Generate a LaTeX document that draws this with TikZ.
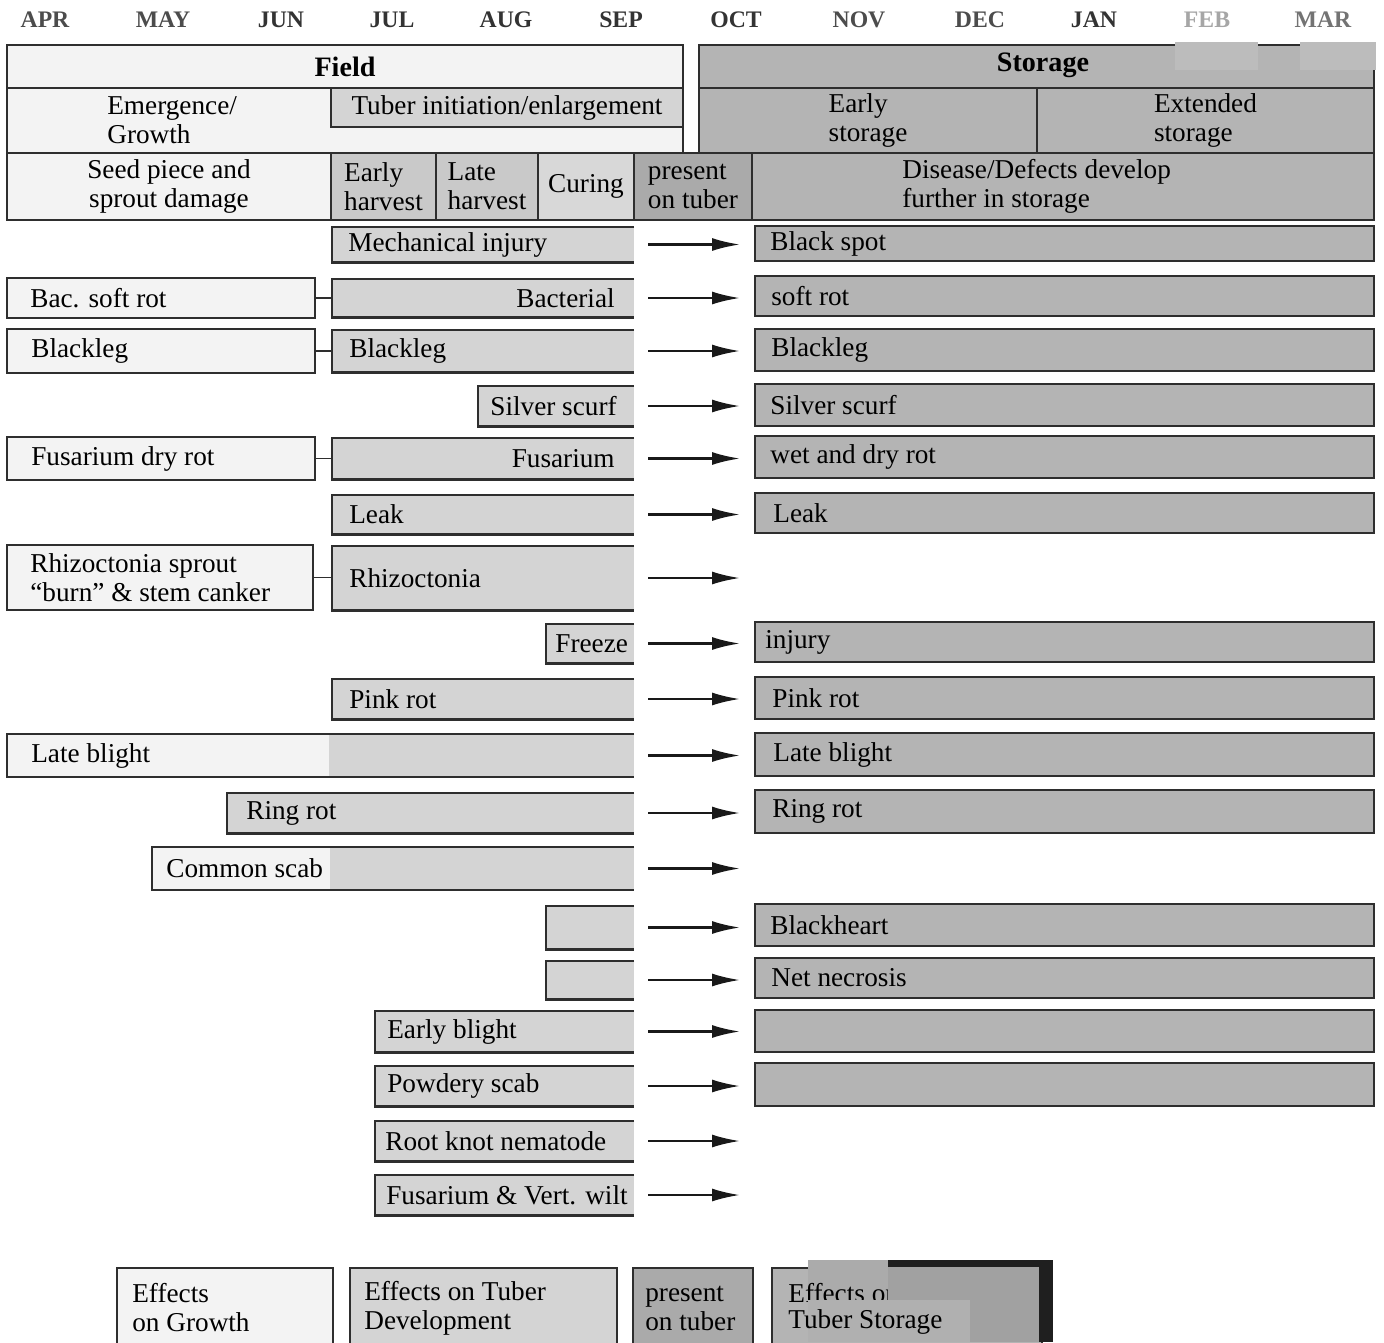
\documentclass[tikz,border=0pt]{standalone}
\usepackage{fontspec}
\setmainfont{Liberation Serif}
\usetikzlibrary{positioning,arrows.meta}
\definecolor{edge}{HTML}{2E2E2E}
\definecolor{fieldwhite}{HTML}{F3F3F3}
\definecolor{devgray}{HTML}{D4D4D4}
\definecolor{harvgray}{HTML}{C9C9C9}
\definecolor{curegray}{HTML}{D8D8D8}
\definecolor{tubergray}{HTML}{AAAAAA}
\definecolor{stogray}{HTML}{B4B4B4}
\definecolor{patchgray}{HTML}{BCBCBC}
\newcommand{\boxfont}{\fontsize{15.5}{16.5}\selectfont}

\begin{document}
\begin{tikzpicture}[x=0.2mm,y=-0.2mm,
    wh/.style 2 args={minimum width=#1*0.2mm,minimum height=#2*0.2mm},
    cell/.style={inner sep=0,outer sep=0,anchor=north west,line width=0.9pt,font=\boxfont,align=center},
    fieldbox/.style={cell,fill=fieldwhite,draw=edge},
    whitepart/.style={cell,fill=fieldwhite},
    graypart/.style={cell,fill=devgray},
    devbox/.style={cell,fill=devgray,path picture={\draw[edge,line width=1.8pt] (path picture bounding box.north east) -- (path picture bounding box.north west) -- (path picture bounding box.south west) -- (path picture bounding box.south east);}},
    stobox/.style={cell,fill=stogray,draw=edge},
    lbl/.style={inner sep=0,font=\boxfont,align=left},
    month/.style={inner sep=0,font=\fontsize{13.5}{15}\selectfont\bfseries,text=#1},
    month/.default={black!80},
    arr/.style={-{Latex[length=5.6mm,width=2.6mm]},line width=1.3pt,black!90},
    tie/.style={edge,line width=0.9pt}]
    \useasboundingbox (0,0) rectangle (1384,1342);
    \clip (0,0) rectangle (1384,1342);

    % months
    \node[month=black!70] (apr) at (45,20) {APR};
    \node[month=black!70] (may) at (163,20) {MAY};
    \node[month] (jun) at (281,20) {JUN};
    \node[month] (jul) at (392,20) {JUL};
    \node[month] (aug) at (506,20) {AUG};
    \node[month] (sep) at (621,20) {SEP};
    \node[month] (oct) at (736,20) {OCT};
    \node[month=black!70] (nov) at (859,20) {NOV};
    \node[month=black!70] (dec) at (980,20) {DEC};
    \node[month] (jan) at (1094,20) {JAN};
    \node[month=black!35] (feb) at (1207,20) {FEB};
    \node[month=black!55] (mar) at (1323,20) {MAR};

    % header
    \node[fieldbox,wh={676}{43},font=\fontsize{16}{18}\selectfont\bfseries] (field) at (7,45) {Field};
    \node[fieldbox,wh={676}{65}] (grow) at (7,88) {};
    \node[lbl,right=20mm of grow.west] (grow-t) {Emergence/\\Growth};
    \node[cell,fill=devgray,draw=edge,wh={352}{39}] (tinit) at (331,88) {Tuber initiation/enlargement};
    \node[fieldbox,wh={324}{67}] (seed) at (7,153) {Seed piece and\\sprout damage};
    \node[cell,fill=harvgray,draw=edge,wh={105}{67},align=left] (earlyh) at (331,153) {Early\\harvest};
    \node[cell,fill=harvgray,draw=edge,wh={102}{67},align=left] (lateh) at (436,153) {Late\\harvest};
    \node[cell,fill=curegray,draw=edge,wh={96}{67}] (curing) at (538,153) {Curing};
    \node[cell,fill=tubergray,draw=edge,wh={118}{67},align=left] (present) at (634,153) {present\\on tuber};
    \node[stobox,wh={622}{67}] (disease) at (752,153) {};
    \node[lbl,right=30mm of disease.west] (disease-t) {Disease/Defects develop\\further in storage};
    \node[stobox,wh={675}{43}] (storage) at (699,45) {};
    \node[lbl,font=\fontsize{16}{18}\selectfont\bfseries] (storage-t) at (1043,65) {Storage};
    \node[stobox,wh={338}{65},align=left] (earlys) at (699,88) {Early\\storage};
    \node[stobox,wh={337}{65},align=left] (exts) at (1037,88) {Extended\\storage};
    \fill[patchgray] (1175,42) rectangle (1258,70);
    \fill[patchgray] (1300,42) rectangle (1376,70);

    % effects on growth
    \node[fieldbox,wh={308}{40}] (bsr) at (7,278) {};
    \node[lbl,right=4.6mm of bsr.west] (bsr-t) {Bac. soft rot};
    \node[fieldbox,wh={308}{44}] (blkf) at (7,329) {};
    \node[lbl,right=4.8mm of blkf.west] (blkf-t) {Blackleg};
    \node[fieldbox,wh={308}{43}] (fdr) at (7,437) {};
    \node[lbl,right=4.8mm of fdr.west] (fdr-t) {Fusarium dry rot};
    \node[fieldbox,wh={306}{65}] (rhzf) at (7,545) {};
    \node[lbl,right=4.6mm of rhzf.west] (rhzf-t) {Rhizoctonia sprout\\``burn'' \& stem canker};

    % effects on tuber development
    \node[devbox,wh={303}{37}] (mech) at (331,226) {};
    \node[lbl,right=3.4mm of mech.west] (mech-t) {Mechanical injury};
    \node[devbox,wh={303}{40}] (bac) at (331,278) {};
    \node[lbl,left=3.8mm of bac.east] (bac-t) {Bacterial};
    \node[devbox,wh={303}{44}] (blk) at (331,329) {};
    \node[lbl,right=3.6mm of blk.west] (blk-t) {Blackleg};
    \node[devbox,wh={157}{42}] (silv) at (477,385) {};
    \node[lbl,right=2.6mm of silv.west] (silv-t) {Silver scurf};
    \node[devbox,wh={303}{43}] (fus) at (331,437) {};
    \node[lbl,left=3.8mm of fus.east] (fus-t) {Fusarium};
    \node[devbox,wh={303}{41}] (leak) at (331,494) {};
    \node[lbl,right=3.6mm of leak.west] (leak-t) {Leak};
    \node[devbox,wh={303}{66}] (rhz) at (331,545) {};
    \node[lbl,right=3.6mm of rhz.west] (rhz-t) {Rhizoctonia};
    \node[devbox,wh={89}{41}] (frz) at (545,623) {};
    \node[lbl,right=2mm of frz.west] (frz-t) {Freeze};
    \node[devbox,wh={303}{42}] (pink) at (331,678) {};
    \node[lbl,right=3.6mm of pink.west] (pink-t) {Pink rot};
    \node[whitepart,wh={322}{43}] (lbw) at (7,734) {};
    \node[graypart,wh={305}{43}] (lbg) at (329,734) {};
    \draw[tie] (lbg.north east) -- (lbw.north west) -- (lbw.south west) -- (lbg.south east);
    \node[lbl,right=4.8mm of lbw.west] (lb-t) {Late blight};
    \node[devbox,wh={408}{42}] (ring) at (226,792) {};
    \node[lbl,right=4mm of ring.west] (ring-t) {Ring rot};
    \node[whitepart,wh={178}{43}] (csw) at (152,847) {};
    \node[graypart,wh={304}{43}] (csg) at (330,847) {};
    \draw[tie] (csg.north east) -- (csw.north west) -- (csw.south west) -- (csg.south east);
    \node[lbl,right=2.8mm of csw.west] (cs-t) {Common scab};
    \node[devbox,wh={89}{45}] (bh) at (545,905) {};
    \node[devbox,wh={89}{40}] (nn) at (545,960) {};
    \node[devbox,wh={260}{43}] (eb) at (374,1010) {};
    \node[lbl,right=2.6mm of eb.west] (eb-t) {Early blight};
    \node[devbox,wh={260}{42}] (ps) at (374,1065) {};
    \node[lbl,right=2.6mm of ps.west] (ps-t) {Powdery scab};
    \node[devbox,wh={260}{42}] (rk) at (374,1120) {};
    \node[lbl,right=2.2mm of rk.west] (rk-t) {Root knot nematode};
    \node[devbox,wh={260}{42}] (fvw) at (374,1174) {};
    \node[lbl,right=2.4mm of fvw.west] (fvw-t) {Fusarium \& Vert. wilt};

    % effects on tuber storage
    \node[stobox,wh={619}{35}] (sbs) at (755,226) {};
    \node[lbl,right=3mm of sbs.west] (sbs-t) {Black spot};
    \node[stobox,wh={619}{40}] (ssr) at (755,276) {};
    \node[lbl,right=3.2mm of ssr.west] (ssr-t) {soft rot};
    \node[stobox,wh={619}{42}] (sbl) at (755,329) {};
    \node[lbl,right=3.2mm of sbl.west] (sbl-t) {Blackleg};
    \node[stobox,wh={619}{42}] (sss) at (755,384) {};
    \node[lbl,right=3mm of sss.west] (sss-t) {Silver scurf};
    \node[stobox,wh={619}{42}] (swd) at (755,436) {};
    \node[lbl,right=3mm of swd.west] (swd-t) {wet and dry rot};
    \node[stobox,wh={619}{40}] (slk) at (755,493) {};
    \node[lbl,right=3.6mm of slk.west] (slk-t) {Leak};
    \node[stobox,wh={619}{40}] (sinj) at (755,622) {};
    \node[lbl,right=2mm of sinj.west] (sinj-t) {injury};
    \node[stobox,wh={619}{42}] (spr) at (755,677) {};
    \node[lbl,right=3.4mm of spr.west] (spr-t) {Pink rot};
    \node[stobox,wh={619}{43}] (slb) at (755,733) {};
    \node[lbl,right=3.6mm of slb.west] (slb-t) {Late blight};
    \node[stobox,wh={619}{43}] (srr) at (755,790) {};
    \node[lbl,right=3.4mm of srr.west] (srr-t) {Ring rot};
    \node[stobox,wh={619}{42}] (sbh) at (755,904) {};
    \node[lbl,right=3mm of sbh.west] (sbh-t) {Blackheart};
    \node[stobox,wh={619}{40}] (snn) at (755,958) {};
    \node[lbl,right=3.2mm of snn.west] (snn-t) {Net necrosis};
    \node[stobox,wh={619}{42}] (seb) at (755,1010) {};
    \node[stobox,wh={619}{43}] (sps) at (755,1063) {};
    \coordinate (gap) at (755,0);

    % ties between growth and development
    \draw[tie] (bsr.east) -- (bac.west |- bsr.east);
    \draw[tie] (blkf.east) -- (blk.west |- blkf.east);
    \draw[tie] (fdr.east) -- (fus.west |- fdr.east);
    \draw[tie] (rhzf.east) -- (rhz.west |- rhzf.east);

    % arrows into storage
    \draw[arr] ([xshift=2.8mm]mech.east) -- ([xshift=-3mm]sbs.west |- mech.east);
    \draw[arr] ([xshift=2.8mm]bac.east) -- ([xshift=-3mm]ssr.west |- bac.east);
    \draw[arr] ([xshift=2.8mm]blk.east) -- ([xshift=-3mm]sbl.west |- blk.east);
    \draw[arr] ([xshift=2.8mm]silv.east) -- ([xshift=-3mm]sss.west |- silv.east);
    \draw[arr] ([xshift=2.8mm]fus.east) -- ([xshift=-3mm]swd.west |- fus.east);
    \draw[arr] ([xshift=2.8mm]leak.east) -- ([xshift=-3mm]slk.west |- leak.east);
    \draw[arr] ([xshift=2.8mm]rhz.east) -- ([xshift=-3mm]gap |- rhz.east);
    \draw[arr] ([xshift=2.8mm]frz.east) -- ([xshift=-3mm]sinj.west |- frz.east);
    \draw[arr] ([xshift=2.8mm]pink.east) -- ([xshift=-3mm]spr.west |- pink.east);
    \draw[arr] ([xshift=2.8mm]lbg.east) -- ([xshift=-3mm]slb.west |- lbg.east);
    \draw[arr] ([xshift=2.8mm]ring.east) -- ([xshift=-3mm]srr.west |- ring.east);
    \draw[arr] ([xshift=2.8mm]csg.east) -- ([xshift=-3mm]gap |- csg.east);
    \draw[arr] ([xshift=2.8mm]bh.east) -- ([xshift=-3mm]sbh.west |- bh.east);
    \draw[arr] ([xshift=2.8mm]nn.east) -- ([xshift=-3mm]snn.west |- nn.east);
    \draw[arr] ([xshift=2.8mm]eb.east) -- ([xshift=-3mm]seb.west |- eb.east);
    \draw[arr] ([xshift=2.8mm]ps.east) -- ([xshift=-3mm]sps.west |- ps.east);
    \draw[arr] ([xshift=2.8mm]rk.east) -- ([xshift=-3mm]gap |- rk.east);
    \draw[arr] ([xshift=2.8mm]fvw.east) -- ([xshift=-3mm]gap |- fvw.east);

    % legend
    \node[fieldbox,wh={216}{80}] (leg1) at (117,1268) {};
    \node[lbl,anchor=west] (leg1-t) at (132,1308) {Effects\\on Growth};
    \node[cell,fill=devgray,draw=edge,wh={267}{80}] (leg2) at (350,1268) {};
    \node[lbl,anchor=west] (leg2-t) at (364,1308) {Effects on Tuber\\Development};
    \node[cell,fill=tubergray,draw=edge,wh={120}{80}] (leg3) at (633,1268) {};
    \node[lbl,anchor=west] (leg3-t) at (645,1308) {present\\on tuber};
    \node[stobox,wh={270}{80}] (leg4) at (772,1268) {};
    \fill[black!33] (808,1260) rectangle (888,1300);
    \node[lbl,anchor=west] (leg4-a) at (788,1293) {Effects on};
    \fill[black!88] (888,1260) rectangle (1053,1342);
    \fill[black!37] (888,1267) rectangle (1039,1342);
    \fill[black!31] (808,1300) rectangle (970,1342);
    \node[lbl,anchor=west] (leg4-b) at (788,1322) {Tuber Storage};
\end{tikzpicture}
\end{document}
